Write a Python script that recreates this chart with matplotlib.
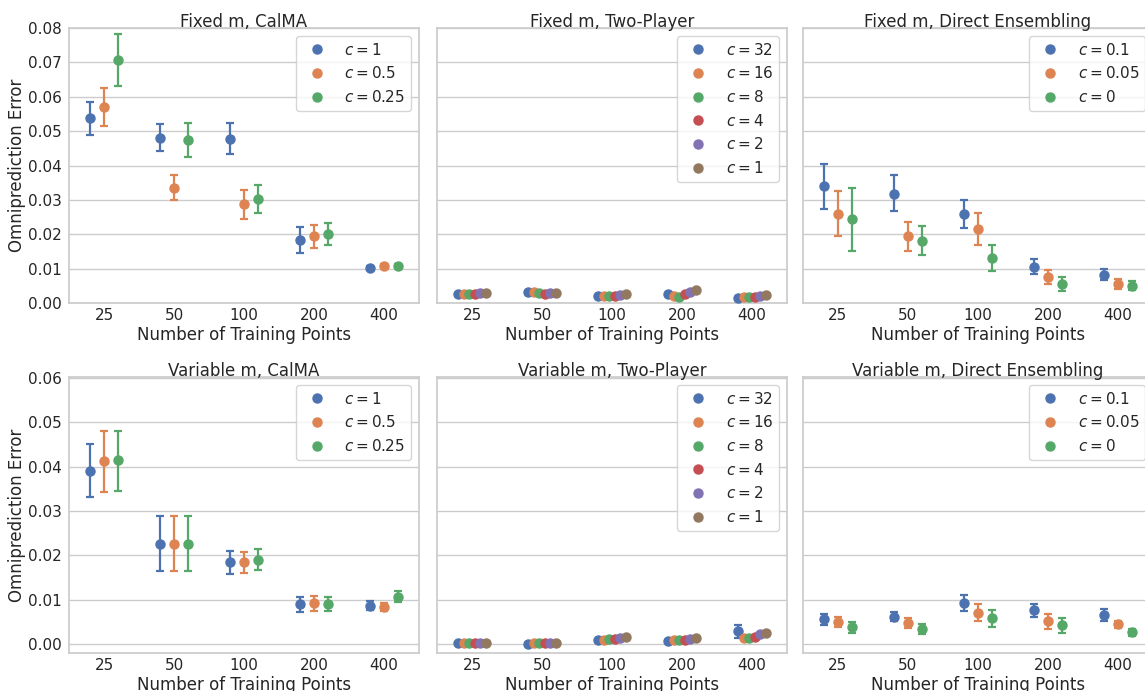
import numpy as np
import matplotlib
matplotlib.use("Agg")
import matplotlib.pyplot as plt
import seaborn as sns

sns.set_theme(style="whitegrid")

# x categories
n_points = ["25", "50", "100", "200", "400"]

# Fixed m, CalMA  (mean, lower, upper) per c
calma_c = ["$c = 1$", "$c = 0.5$", "$c = 0.25$"]
fixed_calma_mean = [[0.0537, 0.0481, 0.0477, 0.0183, 0.0103],
                    [0.0571, 0.0336, 0.0287, 0.0195, 0.0109],
                    [0.0707, 0.0474, 0.0302, 0.0201, 0.0109]]
fixed_calma_lo = [[0.0490, 0.0442, 0.0433, 0.0145, 0.0098],
                  [0.0516, 0.0300, 0.0244, 0.0161, 0.0105],
                  [0.0632, 0.0426, 0.0261, 0.0168, 0.0104]]
fixed_calma_hi = [[0.0586, 0.0520, 0.0525, 0.0222, 0.0108],
                  [0.0626, 0.0373, 0.0329, 0.0227, 0.0113],
                  [0.0783, 0.0523, 0.0342, 0.0234, 0.0114]]

# Variable m, CalMA
var_calma_mean = [[0.0391, 0.0226, 0.0184, 0.0090, 0.0087],
                  [0.0412, 0.0226, 0.0184, 0.0092, 0.0083],
                  [0.0414, 0.0226, 0.0190, 0.0091, 0.0107]]
var_calma_lo = [[0.0332, 0.0165, 0.0159, 0.0073, 0.0077],
                [0.0343, 0.0165, 0.0161, 0.0075, 0.0075],
                [0.0345, 0.0165, 0.0166, 0.0075, 0.0095]]
var_calma_hi = [[0.0450, 0.0288, 0.0210, 0.0107, 0.0098],
                [0.0481, 0.0288, 0.0208, 0.0108, 0.0093],
                [0.0481, 0.0288, 0.0214, 0.0107, 0.0120]]

# Two-Player (mean, half width of error bar)
tp_c = ["$c = 32$", "$c = 16$", "$c = 8$", "$c = 4$", "$c = 2$", "$c = 1$"]
fixed_tp_mean = [[0.0027, 0.0032, 0.0020, 0.0026, 0.0016],
                 [0.0025, 0.0032, 0.0020, 0.0021, 0.0017],
                 [0.0025, 0.0028, 0.0020, 0.0018, 0.0018],
                 [0.0026, 0.0027, 0.0021, 0.0027, 0.0018],
                 [0.0028, 0.0028, 0.0022, 0.0033, 0.0020],
                 [0.0030, 0.0029, 0.0025, 0.0038, 0.0022]]
fixed_tp_err = [[0.0002, 0.0003, 0.0002, 0.0002, 0.0002],
                [0.0002, 0.0002, 0.0002, 0.0002, 0.0002],
                [0.0002, 0.0002, 0.0002, 0.0002, 0.0002],
                [0.0002, 0.0002, 0.0002, 0.0002, 0.0002],
                [0.0002, 0.0002, 0.0002, 0.0003, 0.0002],
                [0.0002, 0.0002, 0.0002, 0.0003, 0.0002]]
var_tp_mean = [[0.0002, 0.0001, 0.0010, 0.0008, 0.0029],
               [0.0002, 0.0002, 0.0010, 0.0009, 0.0013],
               [0.0002, 0.0002, 0.0011, 0.0009, 0.0013],
               [0.0002, 0.0002, 0.0012, 0.0010, 0.0017],
               [0.0002, 0.0002, 0.0014, 0.0011, 0.0023],
               [0.0002, 0.0002, 0.0016, 0.0013, 0.0026]]
var_tp_err = [[0.0001, 0.0001, 0.0001, 0.0001, 0.0015],
              [0.0001, 0.0001, 0.0001, 0.0001, 0.0002],
              [0.0001, 0.0001, 0.0001, 0.0001, 0.0002],
              [0.0001, 0.0001, 0.0001, 0.0001, 0.0002],
              [0.0001, 0.0001, 0.0001, 0.0001, 0.0002],
              [0.0001, 0.0001, 0.0001, 0.0001, 0.0002]]

# Direct Ensembling
de_c = ["$c = 0.1$", "$c = 0.05$", "$c = 0$"]
fixed_de_mean = [[0.0340, 0.0318, 0.0258, 0.0106, 0.0082],
                 [0.0260, 0.0194, 0.0215, 0.0076, 0.0055],
                 [0.0243, 0.0181, 0.0132, 0.0054, 0.0050]]
fixed_de_lo = [[0.0274, 0.0268, 0.0217, 0.0085, 0.0066],
               [0.0196, 0.0151, 0.0170, 0.0056, 0.0042],
               [0.0151, 0.0139, 0.0094, 0.0035, 0.0039]]
fixed_de_hi = [[0.0404, 0.0371, 0.0299, 0.0129, 0.0100],
               [0.0325, 0.0237, 0.0261, 0.0096, 0.0069],
               [0.0334, 0.0223, 0.0170, 0.0075, 0.0063]]
var_de_mean = [[0.0056, 0.0062, 0.0092, 0.0077, 0.0066],
               [0.0050, 0.0047, 0.0071, 0.0051, 0.0046],
               [0.0038, 0.0034, 0.0058, 0.0043, 0.0027]]
var_de_lo = [[0.0043, 0.0051, 0.0074, 0.0061, 0.0053],
             [0.0038, 0.0036, 0.0053, 0.0034, 0.0037],
             [0.0026, 0.0023, 0.0038, 0.0025, 0.0019]]
var_de_hi = [[0.0068, 0.0073, 0.0110, 0.0091, 0.0079],
             [0.0062, 0.0058, 0.0090, 0.0067, 0.0053],
             [0.0050, 0.0045, 0.0076, 0.0058, 0.0035]]

colors = sns.color_palette("deep")


def draw(ax, labels, mean, lo=None, hi=None, err=None):
    k = len(labels)
    offs = np.linspace(-0.2, 0.2, k)
    x = np.arange(len(n_points))
    for i in range(k):
        m = np.array(mean[i])
        if err is not None:
            yerr = np.array(err[i])
        else:
            yerr = [m - np.array(lo[i]), np.array(hi[i]) - m]
        ax.errorbar(x + offs[i], m, yerr=yerr, fmt="none", ecolor=colors[i],
                    elinewidth=1.6, capsize=3, capthick=1.6, zorder=2)
        ax.plot(x + offs[i], m, "o", color=colors[i], markersize=6.5,
                label=labels[i], zorder=3)
    ax.set_xticks(x)
    ax.set_xticklabels(n_points)
    ax.set_xlim(-0.5, 4.5)
    ax.grid(axis="x", visible=False)
    ax.tick_params(axis="x", length=0, pad=3.6)
    ax.tick_params(axis="y", length=0, pad=5)
    ax.set_xlabel("Number of Training Points")
    ax.legend(loc="upper right")


fig = plt.figure(figsize=(11.45, 6.91), dpi=100)
W, H = 1145, 691
lefts = [69, 437, 803]
rows = [(28, 303), (377, 653)]
axes = []
for top, bot in rows:
    row = []
    for l in lefts:
        row.append(fig.add_axes([l / W, 1 - bot / H, 350 / W, (bot - top) / H]))
    axes.append(row)

draw(axes[0][0], calma_c, fixed_calma_mean, fixed_calma_lo, fixed_calma_hi)
draw(axes[0][1], tp_c, fixed_tp_mean, err=fixed_tp_err)
draw(axes[0][2], de_c, fixed_de_mean, fixed_de_lo, fixed_de_hi)
draw(axes[1][0], calma_c, var_calma_mean, var_calma_lo, var_calma_hi)
draw(axes[1][1], tp_c, var_tp_mean, err=var_tp_err)
draw(axes[1][2], de_c, var_de_mean, var_de_lo, var_de_hi)

titles = [["Fixed m, CalMA", "Fixed m, Two-Player", "Fixed m, Direct Ensembling"],
          ["Variable m, CalMA", "Variable m, Two-Player", "Variable m, Direct Ensembling"]]
for r in range(2):
    top, bot = rows[r]
    for c in range(3):
        ax = axes[r][c]
        ax.set_title(titles[r][c], pad=0.5)
        ax.xaxis.set_label_coords(0.5, -23 / (bot - top))
        if r == 0:
            ax.set_ylim(0, 0.08)
            ax.set_yticks(np.arange(0, 0.081, 0.01))
        else:
            ax.set_ylim(-0.002, 0.0602)
            ax.set_yticks(np.arange(0, 0.061, 0.01))
        if c == 0:
            ax.set_ylabel("Omniprediction Error")
            ax.yaxis.set_label_coords(-0.123, 0.5)
            ax.set_yticklabels(["%.2f" % v for v in ax.get_yticks()])
        else:
            ax.set_yticklabels([])

fig.savefig("out.png", dpi=100)
